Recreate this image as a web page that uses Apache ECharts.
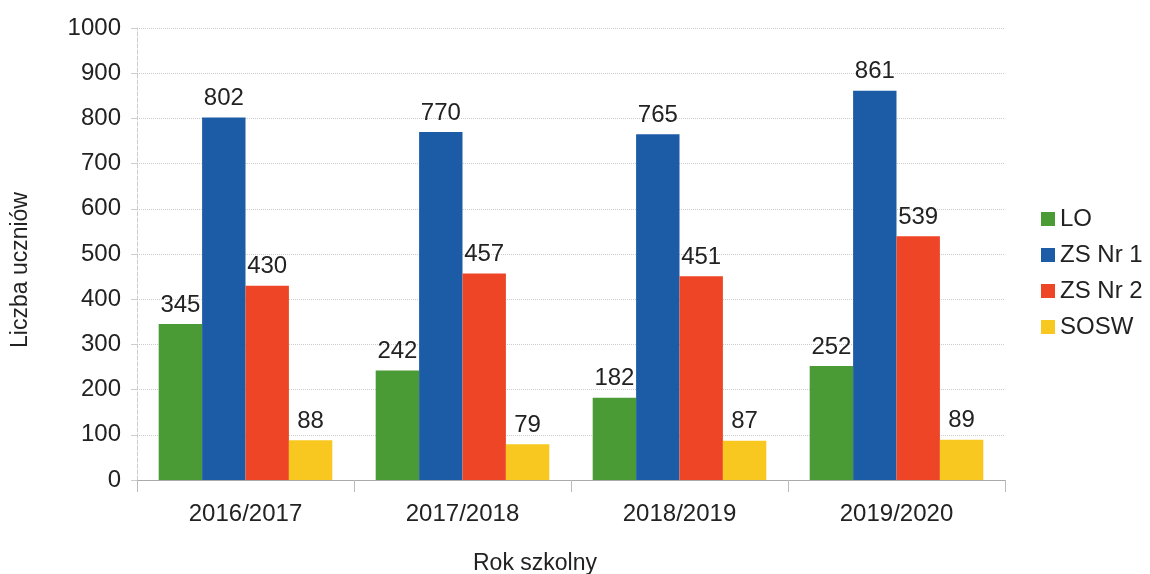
<!DOCTYPE html>
<html>
<head>
<meta charset="utf-8">
<script src="https://cdn.jsdelivr.net/npm/echarts@6/dist/echarts.min.js"></script>
<style>
  html, body { margin: 0; padding: 0; background: #fff; }
  #chart { width: 1150px; height: 574px; }
</style>
</head>
<body>
<div id="chart"></div>
<script>
// lata szkolne i liczba uczniów
var years = ['2016/2017', '2017/2018', '2018/2019', '2019/2020'];
var lo = [345, 242, 182, 252];
var zs1 = [802, 770, 765, 861];
var zs2 = [430, 457, 451, 539];
var sosw = [88, 79, 87, 89];
var yTicks = [0, 1000, 100];

var chart = echarts.init(document.getElementById('chart'));

var labelStyle = {
  show: true,
  position: 'top',
  distance: 7,
  color: '#222',
  fontSize: 24,
  fontFamily: 'Liberation Sans'
};

function bar(name, data, color) {
  return {
    name: name,
    type: 'bar',
    data: data,
    barGap: '0%',
    barCategoryGap: '20%',
    itemStyle: { color: color },
    label: labelStyle
  };
}

chart.setOption({
  animation: false,
  textStyle: { fontFamily: 'Liberation Sans' },
  grid: { left: 137, right: 145, top: 28, bottom: 94, outerBoundsMode: 'none' },
  legend: {
    orient: 'vertical',
    left: 1036,
    top: 202,
    itemWidth: 14,
    itemHeight: 14,
    itemGap: 12,
    icon: 'rect',
    textStyle: { fontSize: 24, color: '#222', fontFamily: 'Liberation Sans' },
    data: ['LO', 'ZS Nr 1', 'ZS Nr 2', 'SOSW']
  },
  xAxis: {
    type: 'category',
    data: years,
    name: 'Rok szkolny',
    nameLocation: 'middle',
    nameGap: 72,
    nameTextStyle: { fontSize: 23, color: '#222', padding: [0, 72, 0, 0] },
    axisLine: { lineStyle: { color: '#aaa' } },
    axisTick: { show: true, length: 12, lineStyle: { color: '#bbb' } },
    axisLabel: { fontSize: 24, color: '#222', margin: 22 }
  },
  yAxis: {
    type: 'value',
    min: yTicks[0],
    max: yTicks[1],
    interval: yTicks[2],
    name: 'Liczba uczniów',
    nameLocation: 'middle',
    nameGap: 105,
    nameTextStyle: { fontSize: 23, color: '#222', padding: [0, 32, 0, 0] },
    axisLine: { show: true, lineStyle: { color: '#ccc', type: 'dashed' } },
    axisTick: { show: true, length: 6, lineStyle: { color: '#ccc' } },
    axisLabel: {
      fontSize: 24,
      color: '#222',
      margin: 16,
      formatter: function (v) { return String(v); }
    },
    splitLine: { lineStyle: { color: '#ccc', type: 'dotted' } }
  },
  series: [
    bar('LO', lo, '#4a9a36'),
    bar('ZS Nr 1', zs1, '#1c5ca6'),
    bar('ZS Nr 2', zs2, '#ee4526'),
    bar('SOSW', sosw, '#f8c820')
  ]
});
</script>
</body>
</html>
